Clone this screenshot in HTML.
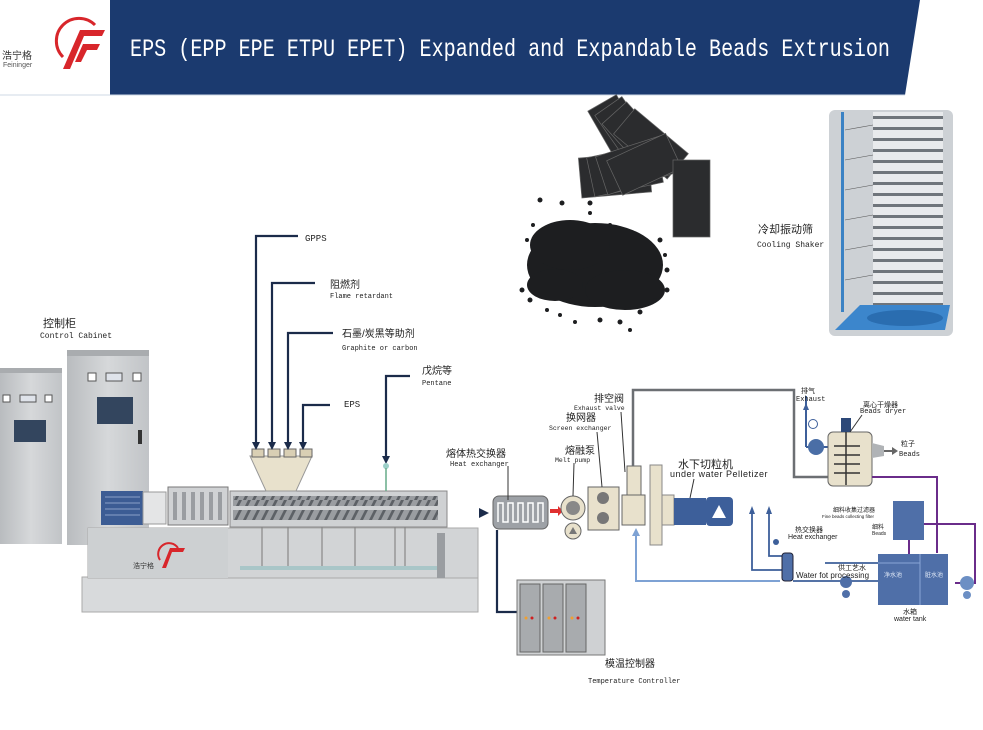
<!DOCTYPE html>
<html><head><meta charset="utf-8"><style>
html,body{margin:0;padding:0;background:#fff;}
svg{display:block;}
text{font-family:"Liberation Sans","Noto Sans CJK SC",sans-serif;}
.m{font-family:"Liberation Mono","Noto Sans CJK SC",monospace;}
</style></head><body>
<svg width="983" height="730" viewBox="0 0 983 730" xmlns="http://www.w3.org/2000/svg">
<defs>
<linearGradient id="cab" x1="0" x2="1"><stop offset="0" stop-color="#b9bcbf"/><stop offset="0.5" stop-color="#d6d8da"/><stop offset="1" stop-color="#c1c4c7"/></linearGradient>
<linearGradient id="cyl" x1="0" x2="1"><stop offset="0" stop-color="#8e9398"/><stop offset="0.4" stop-color="#e8eaec"/><stop offset="1" stop-color="#7d8288"/></linearGradient>
<linearGradient id="stripeg" x1="0" y1="0" x2="0" y2="1"><stop offset="0" stop-color="#e8eaec"/><stop offset="0.55" stop-color="#e8eaec"/><stop offset="0.56" stop-color="#6f757b"/><stop offset="0.8" stop-color="#6f757b"/><stop offset="0.81" stop-color="#e8eaec"/></linearGradient>
<pattern id="stripe" width="70" height="11" patternUnits="userSpaceOnUse"><rect width="70" height="11" fill="url(#stripeg)"/></pattern>
<pattern id="screw" width="9" height="10" patternUnits="userSpaceOnUse"><rect width="9" height="10" fill="#9a9da1"/><path d="M0 10 L5 0 L8 0 L3 10Z" fill="#5d6166"/></pattern>
</defs>

<!-- header -->
<polygon points="110,0 920,0 905,95 110,95" fill="#1b3a6f"/>
<line x1="0" y1="95" x2="905" y2="95" stroke="#cfd8e6" stroke-width="1"/>
<text x="130" y="56" class="m" font-size="25" fill="#fff" textLength="760" lengthAdjust="spacingAndGlyphs">EPS (EPP EPE ETPU EPET) Expanded and Expandable Beads Extrusion</text>
<!-- logo -->
<path d="M63 57 A19 19 0 1 1 95 25" fill="none" stroke="#d8262b" stroke-width="3"/>
<path d="M63 69 L80 30 L105 30 L102 36 L84 36 L70 69Z" fill="#d8262b"/>
<path d="M75 62 L83 44 L100 44 L97 50 L87 50 L81 62Z" fill="#d8262b"/>
<text x="2" y="59" font-size="10" fill="#333">浩宁格</text>
<text x="3" y="67" font-size="7" fill="#555">Feininger</text>

<!-- sheets -->
<g fill="#2b2c2e" stroke="#666" stroke-width="0.7">
<rect x="603" y="98" width="33" height="70" transform="rotate(-30 620 133)"/>
<rect x="612" y="100" width="33" height="70" transform="rotate(-35 628 135)"/>
<rect x="622" y="104" width="33" height="70" transform="rotate(-42 638 140)"/>
<rect x="635" y="110" width="33" height="70" transform="rotate(-50 650 145)"/>
<rect x="580" y="155" width="70" height="40" transform="rotate(-5 615 175)"/>
<rect x="590" y="150" width="70" height="40" transform="rotate(-12 625 170)"/>
<rect x="600" y="145" width="70" height="40" transform="rotate(-18 635 165)"/>
<rect x="612" y="145" width="65" height="38" transform="rotate(-25 645 165)"/>
<rect x="673" y="160" width="37" height="77"/>
</g>
<!-- beads -->
<g fill="#1d1e20">
<ellipse cx="595" cy="265" rx="68" ry="42"/>
<ellipse cx="570" cy="245" rx="40" ry="25"/>
<ellipse cx="625" cy="290" rx="40" ry="20"/>
<ellipse cx="555" cy="285" rx="28" ry="16"/>
<circle cx="540" cy="200" r="2.5"/><circle cx="562" cy="203" r="2.5"/><circle cx="590" cy="203" r="2.5"/><circle cx="522" cy="290" r="2.5"/><circle cx="530" cy="300" r="2.5"/>
<circle cx="560" cy="315" r="2"/><circle cx="575" cy="322" r="2"/><circle cx="600" cy="320" r="2.5"/><circle cx="620" cy="322" r="2.5"/><circle cx="640" cy="312" r="2.5"/><circle cx="667" cy="270" r="2.5"/><circle cx="667" cy="290" r="2.5"/><circle cx="655" cy="300" r="2"/><circle cx="660" cy="240" r="2.5"/><circle cx="547" cy="310" r="2"/><circle cx="630" cy="330" r="2"/>
<circle cx="527" cy="240" r="2"/><circle cx="533" cy="225" r="2"/><circle cx="590" cy="213" r="2"/><circle cx="610" cy="225" r="2"/><circle cx="665" cy="255" r="2"/>
</g>
<!-- cooling shaker -->
<rect x="829" y="110" width="124" height="226" rx="6" fill="#cdd1d5"/>
<rect x="873" y="112" width="70" height="205" fill="url(#stripe)"/>
<rect x="841" y="112" width="3" height="200" fill="#3b82c4"/>
<g stroke="#555" stroke-width="0.6">
<line x1="845" y1="130" x2="873" y2="125"/><line x1="845" y1="160" x2="873" y2="155"/><line x1="845" y1="190" x2="873" y2="185"/><line x1="845" y1="220" x2="873" y2="215"/><line x1="845" y1="250" x2="873" y2="245"/><line x1="845" y1="280" x2="873" y2="275"/>
</g>
<polygon points="835,330 860,305 950,305 945,330" fill="#3c86cc"/>
<ellipse cx="905" cy="318" rx="38" ry="8" fill="#2a6db0"/>
<text x="758" y="233" font-size="11" fill="#222">冷却振动筛</text>
<text x="757" y="247" class="m" font-size="8" fill="#222">Cooling Shaker</text>

<!-- cabinets -->
<rect x="0" y="372" width="62" height="172" fill="url(#cab)"/>
<rect x="0" y="368" width="62" height="5" fill="#a9acaf"/>
<rect x="3" y="395" width="7" height="7" fill="#fff" stroke="#555"/><rect x="20" y="395" width="16" height="7" fill="#dfe3ea" stroke="#555"/><rect x="45" y="395" width="7" height="7" fill="#fff" stroke="#555"/>
<rect x="14" y="420" width="32" height="22" fill="#33455e"/>
<rect x="67" y="355" width="82" height="190" fill="url(#cab)"/>
<rect x="67" y="350" width="82" height="6" fill="#a9acaf"/>
<rect x="88" y="373" width="8" height="8" fill="#fff" stroke="#555"/><rect x="106" y="373" width="16" height="8" fill="#dfe3ea" stroke="#555"/><rect x="133" y="373" width="8" height="8" fill="#fff" stroke="#555"/>
<rect x="97" y="397" width="36" height="27" fill="#33455e"/>
<rect x="138" y="430" width="4" height="14" fill="#333"/>
<text x="43" y="327" font-size="11" fill="#222">控制柜</text>
<text x="40" y="338" class="m" font-size="8" fill="#222">Control Cabinet</text>

<!-- extruder -->
<rect x="82" y="577" width="396" height="35" fill="#d8dadc" stroke="#aaa"/>
<rect x="88" y="528" width="390" height="50" fill="#d2d4d6" stroke="#aaa"/>
<rect x="88" y="528" width="140" height="50" fill="#cdd0d2"/>
<rect x="101" y="491" width="42" height="34" fill="#3c5c94"/>
<g stroke="#8aa0c8" stroke-width="1"><line x1="105" y1="497" x2="140" y2="497"/><line x1="105" y1="503" x2="140" y2="503"/><line x1="105" y1="509" x2="140" y2="509"/><line x1="105" y1="515" x2="140" y2="515"/></g>
<rect x="143" y="492" width="23" height="32" fill="#e4e5e6" stroke="#999"/>
<rect x="168" y="487" width="60" height="38" fill="#d0d2d4" stroke="#777"/>
<g fill="#9a9da1"><rect x="173" y="492" width="4" height="28"/><rect x="182" y="492" width="4" height="28"/><rect x="191" y="492" width="4" height="28"/><rect x="200" y="492" width="4" height="28"/><rect x="209" y="492" width="4" height="28"/><rect x="218" y="492" width="4" height="28"/></g>
<rect x="230" y="491" width="217" height="36" fill="#cfd1d3" stroke="#888"/>
<rect x="233" y="496" width="205" height="10" fill="url(#screw)"/>
<rect x="233" y="510" width="205" height="10" fill="url(#screw)"/>
<g stroke="#888" stroke-width="1.2"><line x1="262" y1="527" x2="262" y2="570"/><line x1="288" y1="527" x2="288" y2="570"/><line x1="322" y1="527" x2="322" y2="570"/><line x1="355" y1="527" x2="355" y2="570"/><line x1="395" y1="527" x2="395" y2="570"/><line x1="405" y1="527" x2="405" y2="570"/></g>
<rect x="240" y="566" width="200" height="4" fill="#a9c6c8"/>
<rect x="437" y="533" width="8" height="45" fill="#9a9da1"/>
<polygon points="250,456 312,456 296,491 266,491" fill="#e8e1cc" stroke="#999"/>
<g fill="#d9cfb4" stroke="#666"><rect x="252" y="449" width="12" height="8"/><rect x="268" y="449" width="12" height="8"/><rect x="284" y="449" width="12" height="8"/><rect x="300" y="449" width="12" height="8"/></g>
<path d="M160 560 A10 10 0 1 1 178 548" fill="none" stroke="#d8262b" stroke-width="2"/>
<path d="M162 568 L170 548 L185 548 L183 552 L172 552 L166 568Z" fill="#d8262b"/>
<text x="133" y="568" font-size="7" fill="#333">浩宁格</text>

<!-- feed lines -->
<g fill="none" stroke="#1b2b4a" stroke-width="2.2">
<path d="M256 446 V236 H298"/><path d="M272 446 V283 H315"/><path d="M288 446 V333 H333"/><path d="M303 446 V405 H330"/><path d="M386 460 V376 H410"/>
<path d="M497 530 V612 H518"/>
</g>
<g fill="#1b2b4a"><polygon points="252,442 260,442 256,450"/><polygon points="268,442 276,442 272,450"/><polygon points="284,442 292,442 288,450"/><polygon points="299,442 307,442 303,450"/><polygon points="382,456 390,456 386,464"/></g>
<circle cx="386" cy="466" r="3" fill="#9ccfc8"/>
<line x1="386" y1="468" x2="386" y2="491" stroke="#6a8" stroke-width="1.5"/>
<text x="305" y="241" class="m" font-size="9" fill="#222">GPPS</text>
<text x="330" y="288" font-size="10" fill="#222">阻燃剂</text>
<text x="330" y="298" class="m" font-size="7" fill="#222">Flame retardant</text>
<text x="342" y="337" font-size="10" fill="#222">石墨/炭黑等助剂</text>
<text x="342" y="350" class="m" font-size="7" fill="#222">Graphite or carbon</text>
<text x="344" y="407" class="m" font-size="9" fill="#222">EPS</text>
<text x="422" y="374" font-size="10" fill="#222">戊烷等</text>
<text x="422" y="385" class="m" font-size="7" fill="#222">Pentane</text>

<!-- heat exchanger -->
<polygon points="479,508 489,513 479,518" fill="#1b2b4a"/>
<rect x="493" y="496" width="55" height="33" rx="6" fill="#9da1a6" stroke="#666"/>
<path d="M498 522 V503 H503 V522 H508 V503 H513 V522 H518 V503 H523 V522 H528 V503 H533 V522 H538 V503 H543 V522" fill="none" stroke="#fff" stroke-width="1.5"/>
<text x="446" y="457" font-size="10" fill="#222">熔体热交换器</text>
<text x="450" y="466" class="m" font-size="7" fill="#222">Heat exchanger</text>
<line x1="508" y1="466" x2="508" y2="500" stroke="#333"/>
<!-- temp controller -->
<rect x="517" y="580" width="88" height="75" fill="#cfd1d3" stroke="#777"/>
<g fill="#a8abae" stroke="#666"><rect x="520" y="584" width="20" height="68"/><rect x="543" y="584" width="20" height="68"/><rect x="566" y="584" width="20" height="68"/></g>
<g><circle cx="526" cy="618" r="1.5" fill="#f0a030"/><circle cx="532" cy="618" r="1.5" fill="#d02020"/><circle cx="549" cy="618" r="1.5" fill="#f0a030"/><circle cx="555" cy="618" r="1.5" fill="#d02020"/><circle cx="572" cy="618" r="1.5" fill="#f0a030"/><circle cx="578" cy="618" r="1.5" fill="#d02020"/></g>
<text x="605" y="667" font-size="10" fill="#222">模温控制器</text>
<text x="588" y="683" class="m" font-size="7" fill="#222">Temperature Controller</text>

<!-- melt pump etc -->
<polygon points="550,509 558,509 558,506 563,511 558,516 558,513 550,513" fill="#e03030"/>
<circle cx="573" cy="508" r="12" fill="#e8e1cc" stroke="#666"/>
<circle cx="573" cy="508" r="7" fill="#888"/>
<circle cx="573" cy="531" r="8" fill="#e8e1cc" stroke="#666"/>
<polygon points="569,534 577,534 573,527" fill="#777"/>
<rect x="588" y="487" width="31" height="43" fill="#e8e1cc" stroke="#666"/>
<circle cx="603" cy="498" r="6" fill="#777"/><circle cx="603" cy="518" r="6" fill="#777"/>
<rect x="622" y="495" width="23" height="30" fill="#e8e1cc" stroke="#666"/>
<rect x="627" y="466" width="14" height="29" fill="#e8e1cc" stroke="#666"/>
<rect x="650" y="465" width="12" height="80" fill="#e8e1cc" stroke="#888"/>
<rect x="662" y="495" width="12" height="30" fill="#e8e1cc" stroke="#888"/>
<rect x="674" y="498" width="32" height="27" fill="#3d5f9a"/>
<rect x="706" y="497" width="27" height="29" rx="4" fill="#3d5f9a"/>
<polygon points="712,518 726,518 719,505" fill="#fff"/>
<text x="565" y="454" font-size="10" fill="#222">熔融泵</text>
<text x="555" y="462" class="m" font-size="6.5" fill="#222">Melt pump</text>
<line x1="574" y1="463" x2="573" y2="496" stroke="#333"/>
<text x="566" y="421" font-size="10" fill="#222">换网器</text>
<text x="549" y="430" class="m" font-size="6.5" fill="#222">Screen exchanger</text>
<line x1="597" y1="432" x2="602" y2="487" stroke="#333"/>
<text x="594" y="402" font-size="10" fill="#222">排空阀</text>
<text x="574" y="410" class="m" font-size="6.5" fill="#222">Exhaust valve</text>
<line x1="621" y1="412" x2="625" y2="472" stroke="#333"/>
<text x="678" y="468" font-size="11" fill="#222">水下切粒机</text>
<text x="670" y="477" font-size="9" fill="#222" letter-spacing="0.5">under water Pelletizer</text>
<line x1="694" y1="479" x2="690" y2="498" stroke="#333"/>

<!-- grey line to dryer -->
<path d="M633 466 V390 H794 V477 H830" fill="none" stroke="#6c6f73" stroke-width="2.5"/>
<!-- dryer -->
<line x1="806" y1="396" x2="806" y2="447" stroke="#3d5f9a" stroke-width="2"/>
<line x1="806" y1="447" x2="828" y2="447" stroke="#3d5f9a" stroke-width="2"/>
<polygon points="803,410 809,410 806,403" fill="#3d5f9a"/>
<circle cx="816" cy="447" r="8" fill="#4a6ea6"/>
<circle cx="813" cy="424" r="4.5" fill="#fff" stroke="#3d5f9a"/>
<rect x="828" y="432" width="44" height="54" rx="5" fill="#e8e1cc" stroke="#666"/>
<rect x="841" y="418" width="10" height="14" fill="#2c4878"/>
<line x1="846" y1="432" x2="846" y2="485" stroke="#333" stroke-width="1.5"/>
<g stroke="#333" stroke-width="1.5"><line x1="834" y1="446" x2="860" y2="446"/><line x1="834" y1="455" x2="860" y2="455"/><line x1="834" y1="464" x2="860" y2="464"/><line x1="834" y1="473" x2="860" y2="473"/></g>
<polygon points="872,443 884,446 884,456 872,458" fill="#b0b3b6"/>
<line x1="884" y1="451" x2="893" y2="451" stroke="#666" stroke-width="2"/>
<polygon points="892,447 898,451 892,455" fill="#666"/>
<text x="801" y="393" font-size="7" fill="#222">排气</text>
<text x="796" y="401" class="m" font-size="7" fill="#222">Exhaust</text>
<text x="863" y="407" font-size="7" fill="#222">离心干燥器</text>
<text x="860" y="413" class="m" font-size="7" fill="#222">Beads dryer</text>
<line x1="862" y1="415" x2="850" y2="432" stroke="#333"/>
<text x="901" y="446" font-size="7" fill="#222">粒子</text>
<text x="899" y="456" class="m" font-size="7" fill="#222">Beads</text>

<!-- purple -->
<g fill="none" stroke="#6a2c8a" stroke-width="2">
<path d="M872 477 H937 V553"/><path d="M923 524 H975 V583 H955"/><path d="M909 540 V555"/>
</g>
<!-- fine filter & tank -->
<rect x="893" y="501" width="31" height="39" fill="#4f6fa8"/>
<text x="833" y="512" font-size="6" fill="#222">细料收集过滤器</text>
<text x="822" y="518" font-size="4.5" fill="#222">Fine beads collecting filter</text>
<text x="872" y="529" font-size="6" fill="#222">细料</text>
<text x="872" y="535" font-size="5" fill="#222">Beads</text>
<rect x="878" y="554" width="70" height="51" fill="#4f6fa8"/>
<line x1="920" y1="554" x2="920" y2="605" stroke="#8aa6d6"/>
<line x1="878" y1="563" x2="920" y2="563" stroke="#8aa6d6"/>
<text x="884" y="577" font-size="6" fill="#dfe8f6">净水池</text>
<text x="925" y="577" font-size="6" fill="#dfe8f6">脏水池</text>
<circle cx="967" cy="583" r="7" fill="#6c8fc4"/>
<circle cx="967" cy="595" r="4" fill="#6c8fc4"/>
<text x="903" y="614" font-size="7" fill="#222">水箱</text>
<text x="894" y="621" font-size="7" fill="#222">water tank</text>
<!-- water lines -->
<g fill="none" stroke="#7ea2d4" stroke-width="2">
<path d="M636 532 V581 H780"/>
</g>
<polygon points="632,536 640,536 636,528" fill="#7ea2d4"/>
<g fill="none" stroke="#3d5f9a" stroke-width="1.8">
<path d="M752 510 V570 H782"/><path d="M769 510 V556 H782"/>
<path d="M793 581 H878"/><path d="M825 563 H878"/>
</g>
<polygon points="749,514 755,514 752,506" fill="#3d5f9a"/><polygon points="766,514 772,514 769,506" fill="#3d5f9a"/>
<circle cx="776" cy="542" r="3" fill="#3d5f9a"/>
<rect x="782" y="553" width="11" height="28" rx="3" fill="#4f6fa8" stroke="#223"/>
<circle cx="846" cy="582" r="6" fill="#4f6fa8"/><circle cx="846" cy="594" r="4" fill="#4f6fa8"/>
<text x="795" y="532" font-size="7" fill="#222">热交换器</text>
<text x="788" y="539" font-size="7" fill="#222">Heat exchanger</text>
<text x="838" y="570" font-size="7" fill="#222">供工艺水</text>
<text x="796" y="578" font-size="8" fill="#222">Water fot processing</text>
</svg>
</body></html>
